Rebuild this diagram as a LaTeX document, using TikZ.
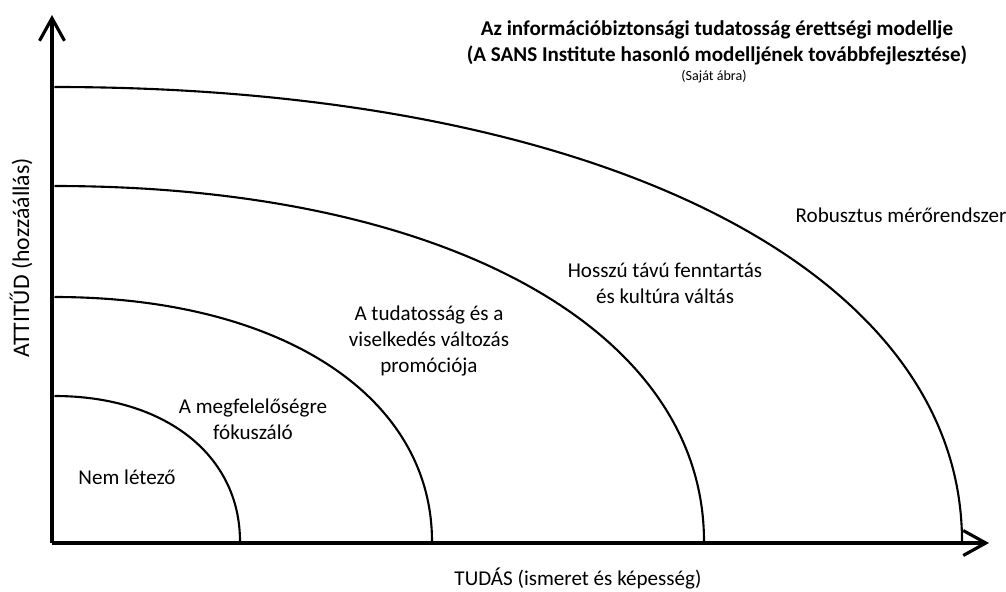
\documentclass[tikz,border=0pt]{standalone}
\usepackage{fontspec}
\setmainfont{Carlito}
\usetikzlibrary{arrows.meta}

\tikzset{
  axis/.style={line width=1.8pt,-{Straight Barb[length=0.45cm,width=0.5cm,line width=1.8pt]}},
  level/.style={line width=1.2pt},
  lbl/.style={align=center,font=\fontsize{12}{14.8}\selectfont}
}

\begin{document}
\begin{tikzpicture}
\useasboundingbox (-1.04,-0.96) rectangle (19.08,10.86);

% axes
\coordinate (o) at (0,0);
\coordinate (xend) at (18.74,0);
\coordinate (yend) at (0,10.56);
\draw[axis] (o) -- (xend);
\draw[axis] (o) -- (yend);

% levels
\foreach \rx/\ry in {3.76/2.94, 7.6/4.92, 13.04/7.14, 18.2/9.12}
  \draw[level] (0.05,\ry) .. controls ({0.6*\rx},\ry) and (\rx,{0.6*\ry}) .. (\rx,0.03);

\node[lbl] (n1) at (1.5,1.32) {Nem létező};
\node[lbl] (n2) at (4.02,2.48) {A megfelelőségre\\fókuszáló};
\node[lbl] (n3) at (7.54,4.04) {A tudatosság és a\\viselkedés változás\\promóciója};
\node[lbl] (n4) at (12.26,5.2) {Hosszú távú fenntartás\\és kultúra váltás};
\node[lbl] (n5) at (16.98,6.56) {Robusztus mérőrendszer};

% title
\node[lbl,font=\fontsize{12}{14.8}\selectfont\bfseries] (title) at (13.3,10.0)
  {Az információbiztonsági tudatosság érettségi modellje\\(A SANS Institute hasonló modelljének továbbfejlesztése)};
\node[lbl,font=\fontsize{8}{9}\selectfont] (src) at (13.24,9.32) {(Saját ábra)};

\node[lbl] (xlab) at (10.52,-0.72) {TUDÁS (ismeret és képesség)};
\node[lbl,rotate=90,font=\fontsize{13.5}{16}\selectfont] (ylab) at (-0.62,5.7) {ATTITŰD (hozzáállás)};
\end{tikzpicture}
\end{document}
